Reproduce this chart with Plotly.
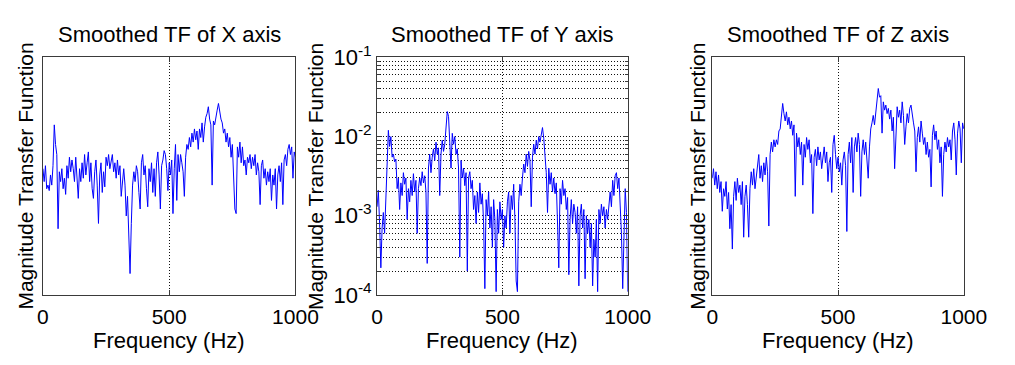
import plotly.graph_objects as go

# ---------------- data ----------------
freq_hz = list(range(0, 1001, 5))

# Smoothed TF magnitude, X axis (arbitrary units, log scale)
tf_x = [
    3.4, 3.0, 3.5, 2.8, 2.9, 2.75, 3.2, 2.9, 3.5, 5.2,
    4.3, 3.9, 1.9, 3.3, 3.0, 3.4, 2.8, 3.1, 2.65, 3.5,
    3.1, 3.8, 3.3, 3.7, 3.4, 3.0, 3.8, 3.2, 2.55, 3.4,
    3.0, 3.6, 3.1, 3.9, 3.2, 3.6, 4.0, 3.0, 3.6, 2.8,
    2.55, 3.3, 3.7, 2.9, 2.0, 3.2, 3.6, 2.7, 3.3, 2.85,
    3.8, 3.5, 3.9, 3.4, 3.7, 3.9, 3.3, 3.6, 3.1, 3.7,
    3.2, 3.5, 2.6, 3.0, 3.4, 2.9, 2.15, 2.6, 1.7, 1.23,
    2.0, 2.9, 3.3, 3.0, 3.5, 3.3, 2.7, 2.3, 3.6, 3.9,
    3.2, 3.5, 2.8, 2.35, 3.4, 3.0, 3.6, 2.7, 3.4, 2.6,
    3.6, 4.0, 3.2, 2.3, 3.5, 3.7, 4.05, 3.9, 3.4, 2.75,
    3.6, 3.2, 3.7, 2.2, 3.4, 4.3, 2.5, 3.9, 3.3, 3.9,
    3.6, 3.3, 2.6, 3.8, 4.3, 4.1, 4.6, 4.2, 4.8, 4.4,
    5.0, 4.5, 4.9, 4.1, 5.0, 4.6, 5.3, 4.4, 5.1, 5.6,
    5.8, 6.2, 5.5, 5.2, 2.9, 5.4, 5.2, 5.5, 6.0, 6.4,
    5.8, 5.5, 5.3, 4.8, 5.0, 4.4, 4.8, 4.2, 4.6, 3.8,
    4.3, 3.0, 2.3, 2.2, 4.2, 3.8, 4.4, 3.6, 4.2, 3.5,
    3.7, 3.2, 3.8, 3.6, 3.9, 3.4, 3.8, 3.5, 3.9, 3.2,
    3.6, 3.3, 2.4, 3.5, 3.7, 3.1, 3.4, 2.9, 3.3, 3.0,
    3.4, 2.5, 3.2, 2.9, 3.4, 2.3, 3.2, 3.5, 3.0, 3.6,
    2.4, 3.7, 3.9, 3.5, 4.1, 4.3, 3.9, 4.2, 3.1, 4.0,
    3.8,
]

# Smoothed TF magnitude, Y axis
tf_y = [
    0.0013, 0.0021, 0.0008, 0.00022, 0.0007, 0.0011, 0.0006, 0.0016, 0.0040, 0.0120,
    0.0075, 0.0100, 0.0055, 0.0060, 0.0048, 0.0052, 0.0022, 0.0030, 0.0012, 0.0026,
    0.0018, 0.0035, 0.0025, 0.0030, 0.0009, 0.0022, 0.0015, 0.0028, 0.0018, 0.0034,
    0.0020, 0.0028, 0.0006, 0.0022, 0.0030, 0.0024, 0.0036, 0.0026, 0.0032, 0.0020,
    0.00025, 0.0040, 0.0060, 0.0035, 0.0055, 0.0070, 0.0050, 0.0085, 0.0060, 0.0072,
    0.0018, 0.0060, 0.0090, 0.0065, 0.0080, 0.0120, 0.0207, 0.0180, 0.0100, 0.0040,
    0.0110, 0.0080, 0.0100, 0.0060, 0.0070, 0.0040, 0.0003, 0.0050, 0.0030, 0.0040,
    0.0024, 0.0035, 0.0002, 0.0030, 0.0036, 0.0022, 0.0028, 0.0012, 0.0018, 0.0008,
    0.0020, 0.0011, 0.0026, 0.0014, 0.0019, 0.0008, 0.00012, 0.0016, 0.0010, 0.0020,
    0.0007, 0.0013, 0.0004, 0.0016, 0.0009, 0.00011, 0.0012, 0.0006, 0.0015, 0.0009,
    0.0012, 0.0004, 0.0010, 0.0007, 0.0015, 0.0020, 0.0006, 0.0018, 0.0012, 0.0025,
    0.0009, 0.00015, 0.00011, 0.0015, 0.0025, 0.0018, 0.0030, 0.0045, 0.0035, 0.0060,
    0.0042, 0.0065, 0.0050, 0.0013, 0.0055, 0.0080, 0.0060, 0.0090, 0.0070, 0.0100,
    0.0085, 0.0110, 0.0130, 0.0095, 0.0060, 0.0035, 0.0011, 0.0040, 0.0025, 0.0035,
    0.0020, 0.0030, 0.0019, 0.0026, 0.0008, 0.00022, 0.0022, 0.0014, 0.0028, 0.0018,
    0.0022, 0.0012, 0.0017, 0.00018, 0.0009, 0.0016, 0.0008, 0.0014, 0.0011, 0.0006,
    0.0013, 0.00013, 0.0010, 0.0014, 0.0007, 0.0012, 0.00016, 0.0010, 0.0006, 0.0009,
    0.0004, 0.0008, 0.00013, 0.0005, 0.0003, 0.0009, 0.00011, 0.0012, 0.0008, 0.0014,
    0.0010, 0.0013, 0.0007, 0.0012, 0.0009, 0.0015, 0.0020, 0.0013, 0.0028, 0.0018,
    0.0032, 0.0035, 0.0022, 0.0030, 0.0012, 0.0006, 0.00012, 0.0009, 0.0022, 0.0011,
    0.00011,
]

# Smoothed TF magnitude, Z axis (arbitrary units, log scale)
tf_z = [
    3.1, 3.4, 2.9, 3.3, 2.8, 3.2, 2.7, 3.0, 2.25, 2.8,
    2.6, 3.0, 2.3, 2.7, 1.9, 2.4, 1.56, 2.6, 3.0, 2.5,
    3.1, 2.7, 2.9, 2.4, 3.0, 1.75, 2.6, 2.9, 2.4, 1.75,
    2.8, 3.3, 2.9, 3.4, 2.8, 3.2, 3.6, 3.9, 3.1, 3.5,
    3.0, 3.6, 3.2, 3.8, 3.3, 1.95, 3.9, 4.4, 4.0, 4.5,
    4.2, 4.5, 4.3, 4.9, 5.0, 5.7, 6.4, 5.8, 5.4, 5.9,
    5.2, 5.6, 5.0, 5.4, 4.7, 5.2, 2.6, 4.8, 4.2, 4.6,
    3.9, 4.4, 2.9, 4.3, 3.8, 4.6, 4.1, 4.5, 3.6, 3.9,
    2.2, 3.8, 4.1, 3.5, 4.2, 3.7, 4.0, 3.4, 3.9, 4.2,
    3.6, 4.0, 3.0, 3.6, 3.8, 2.7, 4.3, 4.7, 3.9, 3.4,
    3.8, 3.3, 3.6, 2.9, 3.7, 4.0, 3.5, 1.85, 3.9, 4.4,
    3.6, 4.6, 2.7, 4.2, 4.6, 4.0, 4.8, 4.3, 2.6, 4.0,
    4.5, 3.9, 4.4, 3.5, 3.1, 4.2, 5.0, 5.3, 5.7, 5.2,
    5.9, 6.5, 7.4, 6.8, 6.9, 4.8, 6.5, 6.0, 6.3, 5.8,
    6.1, 5.5, 6.0, 4.9, 5.6, 3.4, 5.2, 6.2, 5.6, 6.0,
    5.3, 6.5, 5.7, 4.3, 5.1, 5.8, 5.3, 6.1, 6.3, 5.6,
    5.3, 4.9, 3.3, 4.6, 5.1, 4.4, 5.4, 4.8, 4.3, 4.6,
    3.9, 4.4, 3.8, 4.1, 2.85, 4.7, 5.2, 4.5, 4.9, 4.1,
    4.5, 3.6, 4.2, 2.6, 3.9, 4.4, 4.0, 4.6, 4.2, 4.5,
    3.7, 4.9, 5.3, 4.5, 3.2, 4.8, 5.4, 5.0, 3.6, 5.3,
    5.0,
]

panel_titles = ["Smoothed TF of X axis", "Smoothed TF of Y axis", "Smoothed TF of Z axis"]
x_label = "Frequency (Hz)"
y_label = "Magnitude Transfer Function"
x_tick_vals = [0, 500, 1000]
x_tick_text = ["0", "500", "1000"]
y2_major_vals = [1e-4, 1e-3, 1e-2, 1e-1]
y2_major_text = ["10<sup>-4</sup>", "10<sup>-3</sup>", "10<sup>-2</sup>", "10<sup>-1</sup>"]
y2_minor_mult = [2, 3, 4, 5, 6, 7, 8, 9]

# ---------------- layout helpers ----------------
W, H = 1015, 365
def px(x):
    return x / W
def py(y):
    return 1 - y / H

FONT = "Liberation Sans, Arial, sans-serif"
FS = 22
LINE_COL = "#3a3a3a"
GRID_DASH = "1px,2px"
panel_x = [(38, 298), (382, 640), (727, 986)]
panel_y = (45, 303)

y2_minor_vals = [m * v for v in y2_major_vals[:-1] for m in y2_minor_mult]

fig = go.Figure()
series = [tf_x, tf_y, tf_z]
for i, s in enumerate(series):
    sfx = "" if i == 0 else str(i + 1)
    fig.add_trace(go.Scatter(
        x=freq_hz, y=s, mode="lines",
        line=dict(color="#0000ff", width=1),
        xaxis="x" + sfx, yaxis="y" + sfx, showlegend=False,
        hoverinfo="skip",
    ))

layout = dict(
    width=W, height=H,
    margin=dict(l=0, r=0, t=0, b=0),
    paper_bgcolor="white", plot_bgcolor="white",
    showlegend=False,
    font=dict(family=FONT, color="black", size=FS),
)

for i in range(3):
    sfx = "" if i == 0 else str(i + 1)
    x0, x1 = panel_x[i]
    xa = dict(
        domain=[px(x0), px(x1)], range=[0, 1000],
        anchor="y" + sfx,
        tickmode="array", tickvals=x_tick_vals, ticktext=x_tick_text,
        showgrid=True, gridcolor="#111111", griddash=GRID_DASH, gridwidth=1,
        showline=True, mirror="ticks", linecolor=LINE_COL, linewidth=1,
        ticks="inside", ticklen=5, tickcolor=LINE_COL,
        zeroline=False, tickfont=dict(family=FONT, size=21, color="black"),
        ticklabelstandoff=3,
    )
    ya = dict(
        domain=[py(panel_y[1]), py(panel_y[0])],
        anchor="x" + sfx, type="log",
        showline=True, mirror="ticks", linecolor=LINE_COL, linewidth=1,
        zeroline=False,
    )
    if i == 1:
        ya.update(
            range=[-4, -1], tickmode="array",
            tickvals=y2_major_vals, ticktext=y2_major_text,
            showgrid=True, gridcolor="#111111", griddash=GRID_DASH, gridwidth=1,
            ticks="inside", ticklen=5, tickcolor=LINE_COL,
            tickfont=dict(family=FONT, size=FS, color="black"),
            minor=dict(
                tickmode="array", tickvals=y2_minor_vals,
                showgrid=True, gridcolor="#111111", griddash=GRID_DASH, gridwidth=1,
                ticks="inside", ticklen=3, tickcolor=LINE_COL,
            ),
        )
    else:
        ya.update(range=[0, 1], showticklabels=False, showgrid=False, ticks="")
    layout["xaxis" + sfx] = xa
    layout["yaxis" + sfx] = ya

annotations = []
ylabel_x = [20, 318, 712]
for i in range(3):
    x0, x1 = panel_x[i]
    cx = (x0 + x1) / 2
    annotations.append(dict(
        text=panel_titles[i], x=px(cx), y=py(20), xref="paper", yref="paper",
        showarrow=False, xanchor="center", yanchor="middle",
        font=dict(family=FONT, size=FS, color="black"),
    ))
    annotations.append(dict(
        text=x_label, x=px(cx), y=py(351), xref="paper", yref="paper",
        showarrow=False, xanchor="center", yanchor="top",
        font=dict(family=FONT, size=FS, color="black"),
    ) | dict(y=py(337)))
    annotations.append(dict(
        text=y_label, x=px(ylabel_x[i]), y=py((panel_y[0] + panel_y[1]) / 2),
        xref="paper", yref="paper", textangle=-90,
        showarrow=False, xanchor="center", yanchor="middle",
        font=dict(family=FONT, size=21, color="black"),
    ))
layout["annotations"] = annotations

fig.update_layout(**layout)
fig.write_html("out.html")
